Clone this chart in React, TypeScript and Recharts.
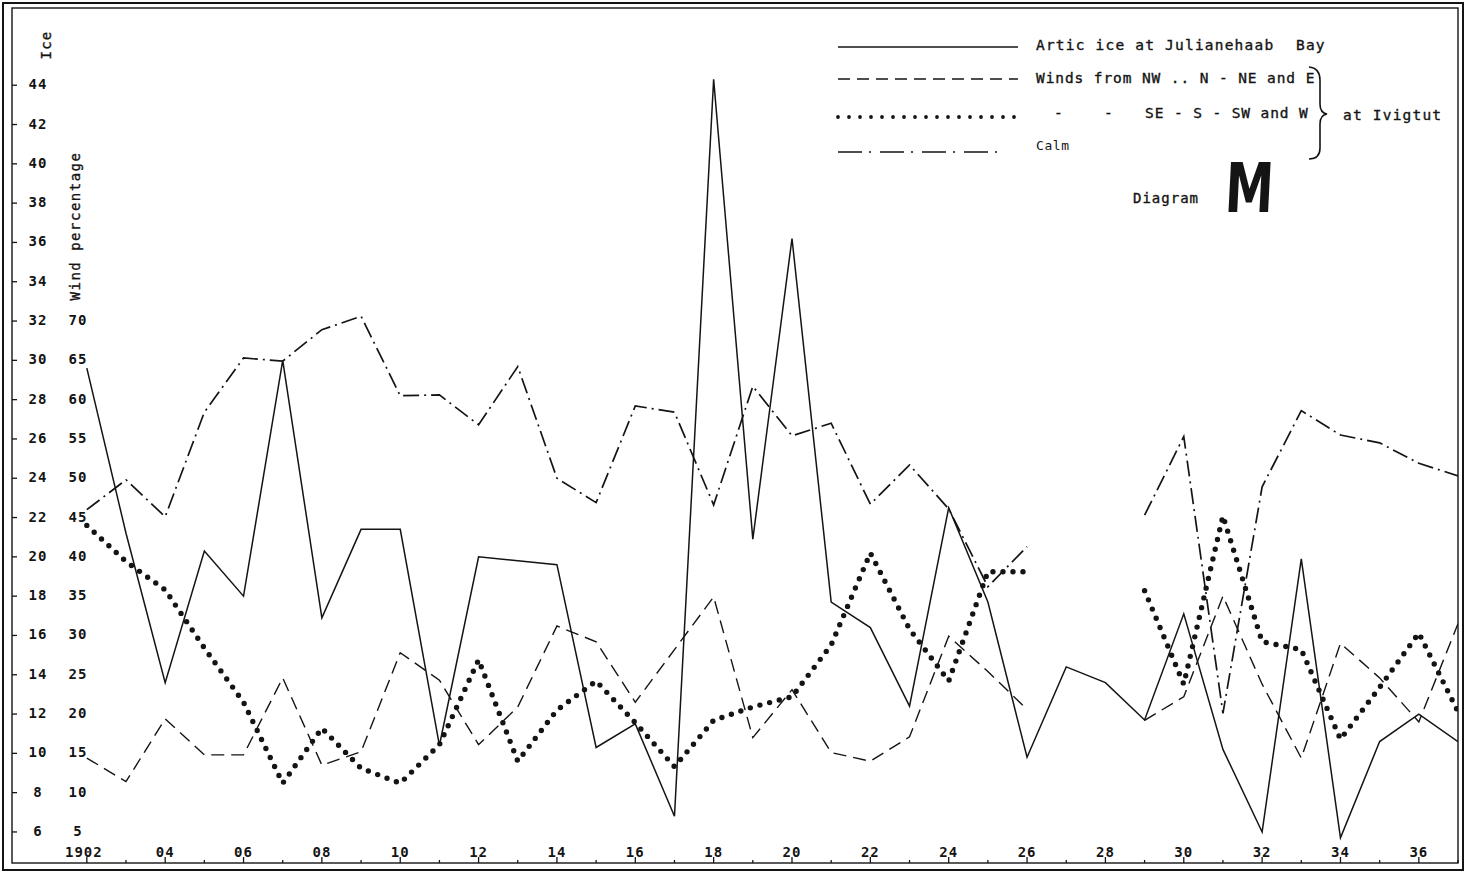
import React from "react";
import { ComposedChart, Line, XAxis, YAxis, Customized } from "recharts";

// Years of observation
const years = [
  1902, 1903, 1904, 1905, 1906, 1907, 1908, 1909, 1910, 1911, 1912, 1913,
  1914, 1915, 1916, 1917, 1918, 1919, 1920, 1921, 1922, 1923, 1924, 1925,
  1926, 1927, 1928, 1929, 1930, 1931, 1932, 1933, 1934, 1935, 1936, 1937,
];

// Arctic ice at Julianehaab Bay (ice scale)
const arcticIce = [
  29.6, 21.2, 13.6, 20.3, 18.0, 30.0, 16.9, 21.4, 21.4, 10.4, 20.0, 19.8,
  19.6, 10.3, 11.5, 6.8, 44.3, 20.9, 36.2, 17.7, 16.4, 12.4, 22.5, 17.7,
  9.8, 14.4, 13.6, 11.7, 17.1, 10.2, 6.0, 19.9, 5.7, 10.6, 12.0, 10.6,
];

// Winds at Ivigtut, percent (no record 1927–1928)
const windsNorthEast = [
  14.4, 11.4, 19.4, 14.8, 14.8, 24.6, 13.5, 15.2, 27.8, 24.3, 16.1, 20.9,
  31.2, 29.2, 21.5, 28.2, 34.9, 17.0, 23.1, 15.1, 14.0, 17.1, 29.9, 25.4,
  20.6, null, null, 19.2, 22.2, 35.0, 23.8, 14.4, 29.0, 24.6, 19.0, 31.5,
];

const windsSouthWest = [
  44.0, 39.4, 35.8, 28.4, 21.5, 11.2, 18.2, 13.1, 11.2, 16.1, 26.9, 14.0,
  20.5, 24.2, 18.9, 13.3, 19.2, 20.9, 22.2, 28.8, 40.5, 30.8, 24.2, 38.1,
  38.1, null, null, 35.7, 23.8, 45.2, 29.2, 28.2, 16.8, 23.4, 30.3, 20.3,
];

const calm = [
  46.0, 49.8, 45.1, 58.4, 65.3, 64.9, 68.9, 70.6, 60.5, 60.6, 56.8, 64.2,
  50.0, 46.9, 59.2, 58.4, 46.6, 61.7, 55.4, 57.0, 46.7, 51.7, 46.1, 36.2,
  41.3, null, null, 45.3, 55.3, 20.1, 48.9, 58.6, 55.5, 54.5, 51.9, 50.3,
];

// Axis ticks
const iceTicks = [6, 8, 10, 12, 14, 16, 18, 20, 22, 24, 26, 28, 30, 32, 34, 36, 38, 40, 42, 44];
const windTicks = [5, 10, 15, 20, 25, 30, 35, 40, 45, 50, 55, 60, 65, 70];
const labelledYears = [
  1902, 1904, 1906, 1908, 1910, 1912, 1914, 1916, 1918, 1920, 1922, 1924,
  1926, 1928, 1930, 1932, 1934, 1936,
];

const rows = years.map((year, i) => ({
  year,
  ice: arcticIce[i],
  ne: windsNorthEast[i],
  sw: windsSouthWest[i],
  calm: calm[i],
}));

// Layout
const W = 1467;
const H = 872;
const PLOT_LEFT = 12;
const PLOT_TOP = 8;
const PLOT_RIGHT = 1458;
const PLOT_BOTTOM = 863;
const AXIS_GAP = 1;
const INK = "#141414";
const MONO = "'DejaVu Sans Mono', 'Liberation Mono', monospace";

// Ice scale and wind scale share one grid: wind = 2.5 * ice - 10
const ICE_DOMAIN: [number, number] = [4.42, 47.93];
const WIND_DOMAIN: [number, number] = [2.5 * ICE_DOMAIN[0] - 10, 2.5 * ICE_DOMAIN[1] - 10];
const X_DOMAIN: [number, number] = [1900.09, 1937];

// Line styles, shared by the series and the key
const styles = {
  ice: { stroke: INK, strokeWidth: 1.5, strokeDasharray: undefined as string | undefined, strokeLinecap: "butt" as const },
  ne: { stroke: INK, strokeWidth: 1.4, strokeDasharray: "13 7", strokeLinecap: "butt" as const },
  sw: { stroke: INK, strokeWidth: 5.4, strokeDasharray: "0 10", strokeLinecap: "round" as const },
  calm: { stroke: INK, strokeWidth: 1.7, strokeDasharray: "16 5 2 5", strokeLinecap: "butt" as const },
};

const textStyle = { fontFamily: MONO, fill: INK, fontWeight: 600 } as const;
const keyText = { fontFamily: MONO, fill: INK, fontWeight: 500, stroke: INK, strokeWidth: 0.35 } as const;

const fmtYear = (y: number) => (y === 1902 ? "1902" : String(y % 100).padStart(2, "0"));

const YearTick = (props: any) => {
  const { x, payload } = props;
  const yr = payload.value as number;
  const labelled = labelledYears.includes(yr);
  return (
    <g>
      <line x1={x} x2={x} y1={PLOT_BOTTOM} y2={PLOT_BOTTOM - (labelled ? 6 : 3)} stroke={INK} strokeWidth={1.3} />
      {labelled && (
        <text x={yr === 1902 ? x - 3 : x} y={PLOT_BOTTOM - 6} textAnchor="middle" fontSize={14} letterSpacing={1} {...textStyle}>
          {fmtYear(yr)}
        </text>
      )}
    </g>
  );
};

const IceTick = (props: any) => {
  const { y, payload } = props;
  return (
    <g>
      <line x1={PLOT_LEFT} x2={PLOT_LEFT + 5} y1={y} y2={y} stroke={INK} strokeWidth={1.3} />
      <text x={38} y={y} dy={4} textAnchor="middle" fontSize={14} letterSpacing={1} {...textStyle}>
        {payload.value}
      </text>
    </g>
  );
};

const WindTick = (props: any) => {
  const { y, payload } = props;
  return (
    <text x={78} y={y} dy={4} textAnchor="middle" fontSize={14} letterSpacing={1} {...textStyle}>
      {payload.value}
    </text>
  );
};

const KeyLine = ({ y, x1, x2, s }: { y: number; x1: number; x2: number; s: any }) => (
  <line x1={x1} x2={x2} y1={y} y2={y} stroke={s.stroke} strokeWidth={s.strokeWidth} strokeDasharray={s.strokeDasharray} strokeLinecap={s.strokeLinecap} />
);

const Decorations = () => (
  <g>
    {/* double frame */}
    <rect x={3} y={3} width={1460} height={867} fill="none" stroke={INK} strokeWidth={2} />
    <rect x={PLOT_LEFT} y={PLOT_TOP} width={PLOT_RIGHT - PLOT_LEFT} height={PLOT_BOTTOM - PLOT_TOP} fill="none" stroke={INK} strokeWidth={1.4} />

    {/* axis titles */}
    <text transform="translate(51,45) rotate(-90)" textAnchor="middle" fontSize={14} letterSpacing={1.2} {...keyText}>
      Ice
    </text>
    <text transform="translate(80,226) rotate(-90)" textAnchor="middle" fontSize={14} letterSpacing={1.5} {...keyText}>
      Wind percentage
    </text>

    {/* key */}
    <KeyLine y={47} x1={838} x2={1018} s={styles.ice} />
    <text x={1036} y={50} fontSize={14.5} letterSpacing={1.2} {...keyText}>Artic ice at Julianehaab</text>
    <text x={1296} y={50} fontSize={14.5} letterSpacing={1.2} {...keyText}>Bay</text>

    <KeyLine y={79} x1={838} x2={1018} s={{ ...styles.ne, strokeDasharray: "12 7" }} />
    <text x={1036} y={83} fontSize={14.5} letterSpacing={0.9} {...keyText}>Winds from NW .. N - NE and E</text>

    <KeyLine y={117} x1={838} x2={1016} s={{ ...styles.sw, strokeWidth: 3.8, strokeDasharray: "0 11" }} />
    <text x={1054} y={118} fontSize={14.5} {...keyText}>-</text>
    <text x={1104} y={118} fontSize={14.5} {...keyText}>-</text>
    <text x={1145} y={118} fontSize={14.5} letterSpacing={0.9} {...keyText}>SE - S - SW and W</text>

    <KeyLine y={152} x1={838} x2={1006} s={{ ...styles.calm, strokeDasharray: "24 7 2 9" }} />
    <text x={1036} y={150} fontSize={13} letterSpacing={0.6} fontFamily={MONO} fill={INK}>Calm</text>

    <path d="M1309,67 Q1320,68 1320,80 L1320,104 Q1320,113 1327,114 Q1320,115 1320,124 L1320,148 Q1320,159 1309,159" fill="none" stroke={INK} strokeWidth={1.6} />
    <text x={1343} y={120} fontSize={14.5} letterSpacing={1.2} {...keyText}>at Ivigtut</text>

    <text x={1133} y={203} fontSize={14} letterSpacing={1} {...keyText}>Diagram</text>
    <text transform="translate(1224,212) scale(0.74,1.04) skewX(-4)" fontSize={66} fontWeight="bold" fontFamily="'DejaVu Sans', sans-serif" fill={INK}>
      M
    </text>
  </g>
);

export default function App() {
  return (
    <div style={{ position: "absolute", left: 0, top: 0, width: W, height: H, background: "#fff" }}>
      <ComposedChart
        width={W}
        height={H}
        data={rows}
        margin={{ top: PLOT_TOP, right: W - PLOT_RIGHT, bottom: H - PLOT_BOTTOM - AXIS_GAP, left: PLOT_LEFT - 2 * AXIS_GAP }}
      >
        <XAxis
          dataKey="year"
          type="number"
          domain={X_DOMAIN}
          allowDataOverflow
          ticks={years}
          interval={0}
          height={AXIS_GAP}
          axisLine={false}
          tickLine={false}
          tick={(p: any) => <YearTick {...p} />}
        />
        <YAxis
          yAxisId="ice"
          type="number"
          domain={ICE_DOMAIN}
          allowDataOverflow
          ticks={iceTicks}
          interval={0}
          width={AXIS_GAP}
          axisLine={false}
          tickLine={false}
          tick={(p: any) => <IceTick {...p} />}
        />
        <YAxis
          yAxisId="wind"
          type="number"
          domain={WIND_DOMAIN}
          allowDataOverflow
          ticks={windTicks}
          interval={0}
          width={AXIS_GAP}
          axisLine={false}
          tickLine={false}
          tick={(p: any) => <WindTick {...p} />}
        />
        <Line yAxisId="wind" dataKey="calm" name="Calm" type="linear" dot={false} activeDot={false} isAnimationActive={false} {...styles.calm} />
        <Line yAxisId="wind" dataKey="ne" name="Winds from NW - N - NE and E" type="linear" dot={false} activeDot={false} isAnimationActive={false} {...styles.ne} />
        <Line yAxisId="wind" dataKey="sw" name="SE - S - SW and W" type="linear" dot={false} activeDot={false} isAnimationActive={false} {...styles.sw} />
        <Line yAxisId="ice" dataKey="ice" name="Artic ice at Julianehaab Bay" type="linear" dot={false} activeDot={false} isAnimationActive={false} {...styles.ice} />
        <Customized component={<Decorations />} />
      </ComposedChart>
    </div>
  );
}
